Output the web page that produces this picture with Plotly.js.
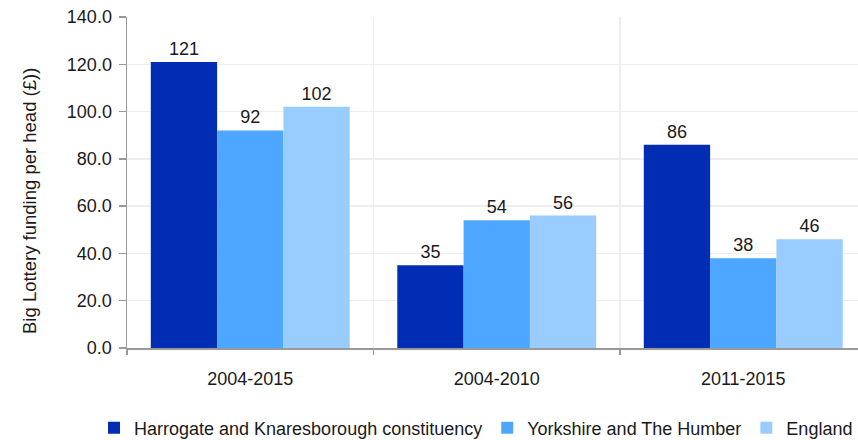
<!DOCTYPE html>
<html>
<head>
<meta charset="utf-8">
<script src="https://cdn.plot.ly/plotly-3.0.1.min.js"></script>
<style>html,body{margin:0;padding:0;background:#fff;}#chart{width:858px;height:440px;}</style>
</head>
<body>
<div id="chart"></div>
<script>
const categories = ["2004-2015", "2004-2010", "2011-2015"];
const harrogate = [121, 35, 86];
const yorkshire = [92, 54, 38];
const england = [102, 56, 46];
const seriesNames = ["Harrogate and Knaresborough constituency", "Yorkshire and The Humber", "England"];
const colors = ["#002db3", "#4da6ff", "#99ccff"];
const yTicks = [0, 20, 40, 60, 80, 100, 120, 140];
const yTitle = "Big Lottery funding per head (£))";

const font = "Liberation Sans, Arial, sans-serif";
const series = [harrogate, yorkshire, england];
const traces = series.map((vals, i) => ({
  type: "bar",
  x: categories,
  y: vals,
  name: seriesNames[i],
  marker: {color: colors[i], line: {width: 0}},
  text: vals.map(v => String(v)),
  textposition: "outside",
  textfont: {family: font, size: 18, color: "#1a1a1a"},
  cliponaxis: false
}));

const layout = {
  width: 858, height: 440,
  margin: {l: 0, r: 0, t: 17, b: 92},
  paper_bgcolor: "#fff", plot_bgcolor: "#fff",
  font: {family: font, size: 18, color: "#1a1a1a"},
  barmode: "group",
  bargap: 0.193, bargroupgap: 0,
  showlegend: true,
  legend: {orientation: "h", xref: "paper", yref: "container", x: 98/858, xanchor: "left", y: 0.027, yanchor: "middle",
           font: {family: font, size: 18, color: "#1a1a1a"}, itemwidth: 30, traceorder: "normal", bgcolor: "rgba(0,0,0,0)"},
  annotations: [{
    text: yTitle, textangle: -90, showarrow: false,
    xref: "paper", yref: "paper", x: 29/858, y: (348 - 201) / 331,
    xanchor: "center", yanchor: "middle",
    font: {family: font, size: 18.5, color: "#1a1a1a"}
  }],
  xaxis: {
    domain: [127/858, 1],
    range: [-0.5, 2.4655],
    tickson: "boundaries",
    ticks: "outside", ticklen: 5, tickwidth: 1.5, tickcolor: "#999",
    showline: true, linecolor: "#999", linewidth: 1.5,
    showgrid: true, gridcolor: "#eeeeee", gridwidth: 1.5,
    tickfont: {family: font, size: 18, color: "#1a1a1a"},
    ticklabelstandoff: 14,
    automargin: false,
    fixedrange: true
  },
  yaxis: {
    range: [0, 140],
    tickvals: yTicks,
    tickformat: ".1f",
    ticks: "outside", ticklen: 7, tickwidth: 1.5, tickcolor: "#999",
    showline: true, linecolor: "#999", linewidth: 1.5,
    showgrid: true, gridcolor: "#eeeeee", gridwidth: 1.5,
    zeroline: false,
    tickfont: {family: font, size: 18, color: "#1a1a1a"},
    ticklabelstandoff: 3,
    automargin: false
  }
};

Plotly.newPlot("chart", traces, layout, {displayModeBar: false, staticPlot: true});
</script>
</body>
</html>
